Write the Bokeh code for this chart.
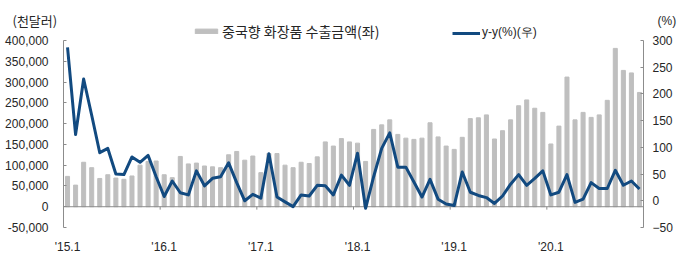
from bokeh.plotting import figure
from bokeh.models import (Range1d, LinearAxis, SingleIntervalTicker, FixedTicker,
                          NumeralTickFormatter, Legend, LegendItem, Label, ColumnDataSource)
from bokeh.core.properties import value
from bokeh.embed import file_html
from bokeh.resources import INLINE

# ---- data ----
year_labels = ["'15.1", "'16.1", "'17.1", "'18.1", "'19.1", "'20.1"]
months_per_year = 12

export_2015 = [73, 52, 107, 94, 68, 77, 69, 66, 74, 100, 109, 110]
export_2016 = [77, 70, 121, 103, 105, 98, 96, 94, 125, 133, 112, 122]
export_2017 = [82, 128, 128, 100, 94, 107, 104, 120, 156, 146, 164, 156]
export_2018 = [153, 109, 186, 197, 209, 174, 165, 162, 165, 202, 168, 146]
export_2019 = [138, 167, 212, 214, 221, 163, 183, 209, 243, 257, 237, 227]
export_2020 = [151, 194, 312, 209, 227, 215, 221, 256, 381, 328, 322, 275]

yy_2015 = [287, 124, 228, 160, 90, 98, 50, 49, 82, 72, 85, 45]
yy_2016 = [8, 37, 15, 11, 56, 28, 42, 45, 71, 34, 0, 12]
yy_2017 = [5, 88, 7, -2, -11, 11, 9, 29, 28, 11, 48, 29]
yy_2018 = [89, -14, 45, 98, 127, 63, 63, 35, 7, 40, 3, -6]
yy_2019 = [-9, 54, 16, 10, 6, -5, 9, 31, 49, 29, 42, 56]
yy_2020 = [11, 16, 49, -3, 3, 34, 23, 23, 57, 29, 37, 22]

left_lim = (-50000, 400000)
right_lim = (-50, 300)

bar_label = "중국향 화장품 수출금액(좌)"
line_label = "y-y(%)(우)"
left_unit = "(천달러)"
right_unit = "(%)"

exports_k = export_2015 + export_2016 + export_2017 + export_2018 + export_2019 + export_2020
exports = [v * 1000 for v in exports_k]
yy = yy_2015 + yy_2016 + yy_2017 + yy_2018 + yy_2019 + yy_2020
idx = list(range(len(exports)))
n = len(idx)

src = ColumnDataSource(dict(x=idx, exports=exports, yy=yy))

# ---- layout geometry (pixels) ----
W, H = 680, 262
FL, FR, FT, FB = 63, 643, 40, 227   # plotting area of the original chart

x0, x1 = -0.5, n - 0.5
xs = (x1 - x0) / (FR - FL)
ls = (left_lim[1] - left_lim[0]) / (FB - FT)
rs = (right_lim[1] - right_lim[0]) / (FB - FT)

BAR = "#bfbfbf"
LINE = "#124a80"
AXIS = "#8c8c8c"
TXT = "#262626"
FONT = "Liberation Sans"
KFONT = "Noto Sans CJK KR"

p = figure(width=W, height=H, output_backend="svg", toolbar_location=None,
           x_range=Range1d(x0 - FL * xs, x1 + (W - FR) * xs),
           y_range=Range1d(left_lim[0] - (H - FB) * ls, left_lim[1] + FT * ls),
           min_border=0, x_axis_location=None, y_axis_location=None)
p.extra_y_ranges = {"pct": Range1d(right_lim[0] - (H - FB) * rs, right_lim[1] + FT * rs)}
p.outline_line_color = None
p.xgrid.visible = False
p.ygrid.visible = False
p.background_fill_color = "white"
p.border_fill_color = "white"

bars = p.vbar(x="x", top="exports", width=0.5, source=src, color=BAR)

# zero line across the plotting area
p.segment(x0=[x0], x1=[x1], y0=[0], y1=[0], line_color=AXIS, line_width=1)
# year boundary marks on zero line
bounds = [i * months_per_year - 0.5 for i in range(1, len(year_labels))]
p.segment(x0=bounds, x1=bounds, y0=[0] * len(bounds), y1=[-7000] * len(bounds),
          line_color=AXIS, line_width=1)

line = p.line(x="x", y="yy", source=src, y_range_name="pct", line_color=LINE,
              line_width=3, line_join="round")

# x axis (labels under the plotting area)
xa = LinearAxis(fixed_location=left_lim[0],
                ticker=FixedTicker(ticks=[i * months_per_year for i in range(len(year_labels))]))
xa.major_label_overrides = {i * months_per_year: lab for i, lab in enumerate(year_labels)}
xa.axis_line_color = None
xa.major_tick_line_color = None
xa.minor_tick_line_color = None
xa.major_label_standoff = 6
xa.major_label_text_font = FONT
xa.major_label_text_font_size = "12px"
xa.major_label_text_color = TXT
p.add_layout(xa, "below")

# left axis
ya = LinearAxis(fixed_location=x0, bounds=left_lim, ticker=SingleIntervalTicker(interval=50000))
ya.formatter = NumeralTickFormatter(format="0,0")
ya.axis_line_color = AXIS
ya.major_tick_line_color = AXIS
ya.major_tick_in = 3
ya.major_tick_out = 0
ya.minor_tick_line_color = None
ya.major_label_standoff = 11
ya.major_label_text_font = FONT
ya.major_label_text_font_size = "12px"
ya.major_label_text_color = TXT
p.add_layout(ya, "left")

# right axis
ra = LinearAxis(y_range_name="pct", fixed_location=x1, bounds=right_lim,
                ticker=SingleIntervalTicker(interval=50))
ra.axis_line_color = AXIS
ra.major_tick_line_color = AXIS
ra.major_tick_in = 3
ra.major_tick_out = 0
ra.minor_tick_line_color = None
ra.major_label_standoff = 5
ra.major_label_text_font = FONT
ra.major_label_text_font_size = "12px"
ra.major_label_text_color = TXT
p.add_layout(ra, "right")

# unit labels
p.add_layout(Label(x=12, y=H - 20, x_units="screen", y_units="screen", text=left_unit,
                   text_font=KFONT, text_font_size="13px", text_color=TXT,
                   text_baseline="middle", text_align="left"))
p.add_layout(Label(x=657, y=H - 20, x_units="screen", y_units="screen", text=right_unit,
                   text_font=FONT, text_font_size="12px", text_color=TXT,
                   text_baseline="middle", text_align="left"))

# legends
def mk_legend(item, loc, font, size):
    return Legend(items=[item], location=loc, orientation="horizontal",
                  glyph_width=28, glyph_height=6, label_height=6, label_standoff=2,
                  padding=0, margin=0, spacing=0, border_line_color=None,
                  background_fill_alpha=0, label_text_font=font,
                  label_text_font_size=size, label_text_color=TXT,
                  label_text_baseline="middle")

p.add_layout(mk_legend(LegendItem(label=bar_label, renderers=[bars]), (192, H - 41), KFONT, "14px"))
p.add_layout(mk_legend(LegendItem(label=line_label, renderers=[line]), (452, H - 41), FONT, "12px"))

open("out.html", "w").write(file_html(p, INLINE))
